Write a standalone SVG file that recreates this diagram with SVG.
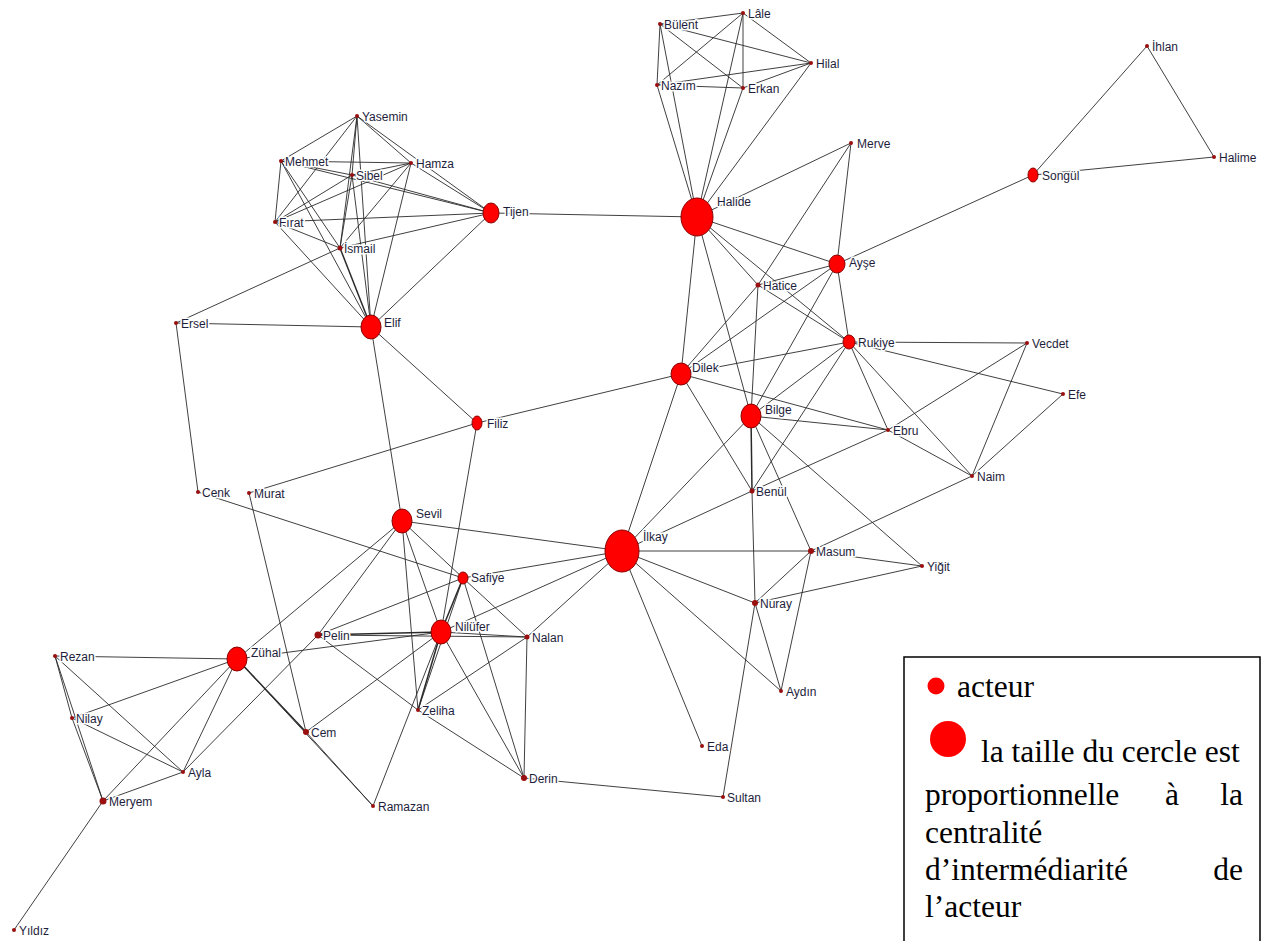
<svg xmlns="http://www.w3.org/2000/svg" width="1266" height="941" viewBox="0 0 1266 941">
<style>
.e line{stroke:#2a2a2a;stroke-width:0.9;fill:none}
.e line.t{stroke-width:1.5}
.d{fill:#9a0f0f}
.b{fill:#ff0000;stroke:#8a0000;stroke-width:1}
.n text{font-family:"Liberation Sans",Arial,sans-serif;font-size:12px;fill:#1e1e3c;stroke:#fff;stroke-width:3;paint-order:stroke;stroke-linejoin:round}
.lg{font-family:"Liberation Serif","Times New Roman",serif;font-size:31.5px;fill:#000}
</style>
<rect width="1266" height="941" fill="#fff"/>
<g id="connectors" class="e">
<line x1="660" y1="24" x2="743" y2="13"/>
<line x1="660" y1="24" x2="811" y2="63"/>
<line x1="660" y1="24" x2="743" y2="88"/>
<line x1="660" y1="24" x2="657" y2="85"/>
<line x1="660" y1="24" x2="697" y2="217"/>
<line x1="743" y1="13" x2="657" y2="85"/>
<line x1="743" y1="13" x2="743" y2="88"/>
<line x1="743" y1="13" x2="811" y2="63"/>
<line x1="743" y1="13" x2="697" y2="217"/>
<line x1="657" y1="85" x2="811" y2="63"/>
<line x1="657" y1="85" x2="743" y2="88"/>
<line x1="743" y1="88" x2="811" y2="63"/>
<line x1="811" y1="63" x2="697" y2="217"/>
<line x1="657" y1="85" x2="697" y2="217"/>
<line x1="743" y1="88" x2="697" y2="217"/>
<line x1="357" y1="116" x2="281" y2="161"/>
<line x1="357" y1="116" x2="275" y2="222"/>
<line x1="357" y1="116" x2="411" y2="163"/>
<line x1="357" y1="116" x2="491" y2="213"/>
<line x1="357" y1="116" x2="352" y2="175"/>
<line x1="357" y1="116" x2="340" y2="248"/>
<line x1="357" y1="116" x2="371" y2="327"/>
<line x1="281" y1="161" x2="411" y2="163"/>
<line x1="281" y1="161" x2="352" y2="175"/>
<line x1="281" y1="161" x2="491" y2="213"/>
<line x1="281" y1="161" x2="275" y2="222"/>
<line x1="281" y1="161" x2="340" y2="248"/>
<line x1="281" y1="161" x2="371" y2="327"/>
<line x1="411" y1="163" x2="352" y2="175"/>
<line x1="411" y1="163" x2="491" y2="213"/>
<line x1="411" y1="163" x2="275" y2="222"/>
<line x1="411" y1="163" x2="340" y2="248"/>
<line x1="411" y1="163" x2="371" y2="327"/>
<line x1="275" y1="222" x2="352" y2="175"/>
<line x1="275" y1="222" x2="491" y2="213"/>
<line x1="275" y1="222" x2="340" y2="248"/>
<line x1="275" y1="222" x2="371" y2="327"/>
<line x1="352" y1="175" x2="491" y2="213"/>
<line x1="352" y1="175" x2="340" y2="248"/>
<line x1="352" y1="175" x2="371" y2="327"/>
<line x1="340" y1="248" x2="491" y2="213"/>
<line x1="340" y1="248" x2="176" y2="323"/>
<line class="t" x1="340" y1="248" x2="371" y2="327"/>
<line x1="491" y1="213" x2="371" y2="327"/>
<line x1="491" y1="213" x2="697" y2="217"/>
<line x1="176" y1="323" x2="371" y2="327"/>
<line x1="176" y1="323" x2="198" y2="492"/>
<line x1="371" y1="327" x2="477" y2="423"/>
<line x1="371" y1="327" x2="402" y2="521"/>
<line x1="477" y1="423" x2="681" y2="374"/>
<line x1="477" y1="423" x2="249" y2="493"/>
<line x1="477" y1="423" x2="441" y2="632"/>
<line x1="697" y1="217" x2="851" y2="143"/>
<line x1="697" y1="217" x2="837" y2="264"/>
<line x1="697" y1="217" x2="758" y2="285"/>
<line x1="697" y1="217" x2="849" y2="342"/>
<line x1="697" y1="217" x2="681" y2="374"/>
<line x1="697" y1="217" x2="751" y2="416"/>
<line x1="851" y1="143" x2="837" y2="264"/>
<line x1="851" y1="143" x2="758" y2="285"/>
<line x1="837" y1="264" x2="1033" y2="175"/>
<line x1="837" y1="264" x2="758" y2="285"/>
<line x1="837" y1="264" x2="681" y2="374"/>
<line x1="837" y1="264" x2="751" y2="416"/>
<line x1="837" y1="264" x2="849" y2="342"/>
<line x1="758" y1="285" x2="849" y2="342"/>
<line x1="758" y1="285" x2="681" y2="374"/>
<line x1="758" y1="285" x2="751" y2="416"/>
<line x1="849" y1="342" x2="681" y2="374"/>
<line x1="849" y1="342" x2="1027" y2="343"/>
<line x1="849" y1="342" x2="1063" y2="394"/>
<line x1="849" y1="342" x2="888" y2="430"/>
<line x1="849" y1="342" x2="972" y2="476"/>
<line x1="849" y1="342" x2="751" y2="416"/>
<line x1="849" y1="342" x2="752" y2="491"/>
<line x1="681" y1="374" x2="888" y2="430"/>
<line x1="681" y1="374" x2="752" y2="491"/>
<line x1="681" y1="374" x2="622" y2="551"/>
<line x1="751" y1="416" x2="888" y2="430"/>
<line class="t" x1="751" y1="416" x2="752" y2="491"/>
<line x1="751" y1="416" x2="622" y2="551"/>
<line x1="751" y1="416" x2="922" y2="566"/>
<line x1="751" y1="416" x2="811" y2="551"/>
<line x1="888" y1="430" x2="1027" y2="343"/>
<line x1="888" y1="430" x2="972" y2="476"/>
<line x1="888" y1="430" x2="752" y2="491"/>
<line x1="1027" y1="343" x2="972" y2="476"/>
<line x1="1063" y1="394" x2="972" y2="476"/>
<line x1="972" y1="476" x2="811" y2="551"/>
<line x1="811" y1="551" x2="922" y2="566"/>
<line x1="755" y1="603" x2="922" y2="566"/>
<line x1="811" y1="551" x2="622" y2="551"/>
<line x1="811" y1="551" x2="755" y2="603"/>
<line x1="811" y1="551" x2="781" y2="691"/>
<line x1="755" y1="603" x2="622" y2="551"/>
<line x1="755" y1="603" x2="752" y2="491"/>
<line x1="755" y1="603" x2="781" y2="691"/>
<line x1="755" y1="603" x2="723" y2="797"/>
<line x1="622" y1="551" x2="752" y2="491"/>
<line x1="622" y1="551" x2="402" y2="521"/>
<line x1="622" y1="551" x2="463" y2="578"/>
<line x1="622" y1="551" x2="441" y2="632"/>
<line x1="622" y1="551" x2="527" y2="637"/>
<line x1="622" y1="551" x2="702" y2="746"/>
<line x1="622" y1="551" x2="781" y2="691"/>
<line x1="402" y1="521" x2="463" y2="578"/>
<line x1="402" y1="521" x2="441" y2="632"/>
<line x1="402" y1="521" x2="418" y2="710"/>
<line x1="402" y1="521" x2="237" y2="659"/>
<line x1="402" y1="521" x2="318" y2="635"/>
<line x1="198" y1="492" x2="463" y2="578"/>
<line x1="463" y1="578" x2="318" y2="635"/>
<line class="t" x1="463" y1="578" x2="441" y2="632"/>
<line x1="463" y1="578" x2="527" y2="637"/>
<line x1="463" y1="578" x2="524" y2="778"/>
<line x1="463" y1="578" x2="418" y2="710"/>
<line class="t" x1="318" y1="635" x2="441" y2="632"/>
<line x1="318" y1="635" x2="527" y2="637"/>
<line x1="318" y1="635" x2="418" y2="710"/>
<line x1="318" y1="635" x2="183" y2="772"/>
<line x1="441" y1="632" x2="527" y2="637"/>
<line x1="441" y1="632" x2="237" y2="659"/>
<line x1="441" y1="632" x2="306" y2="732"/>
<line class="t" x1="441" y1="632" x2="418" y2="710"/>
<line x1="441" y1="632" x2="524" y2="778"/>
<line x1="441" y1="632" x2="373" y2="806"/>
<line x1="527" y1="637" x2="524" y2="778"/>
<line x1="527" y1="637" x2="418" y2="710"/>
<line x1="418" y1="710" x2="524" y2="778"/>
<line x1="524" y1="778" x2="723" y2="797"/>
<line x1="237" y1="659" x2="55" y2="656"/>
<line x1="237" y1="659" x2="72" y2="718"/>
<line x1="237" y1="659" x2="183" y2="772"/>
<line x1="237" y1="659" x2="103" y2="801"/>
<line class="t" x1="237" y1="659" x2="306" y2="732"/>
<line x1="237" y1="659" x2="373" y2="806"/>
<line x1="306" y1="732" x2="373" y2="806"/>
<line x1="306" y1="732" x2="249" y2="493"/>
<line x1="55" y1="656" x2="72" y2="718"/>
<line x1="55" y1="656" x2="103" y2="801"/>
<line x1="55" y1="656" x2="183" y2="772"/>
<line x1="72" y1="718" x2="103" y2="801"/>
<line x1="72" y1="718" x2="183" y2="772"/>
<line x1="103" y1="801" x2="183" y2="772"/>
<line x1="103" y1="801" x2="14" y2="930"/>
<line x1="1033" y1="175" x2="1147" y2="46"/>
<line x1="1033" y1="175" x2="1214" y2="157"/>
<line x1="1147" y1="46" x2="1214" y2="157"/>
</g>
<g class="n">
<g id="n-bulent"><circle class="d" cx="660" cy="24" r="2"/><text x="664" y="29">Bülent</text></g>
<g id="n-lale"><circle class="d" cx="743" cy="13" r="2"/><text x="748" y="18">Lâle</text></g>
<g id="n-hilal"><circle class="d" cx="811" cy="63" r="2"/><text x="816" y="68">Hilal</text></g>
<g id="n-nazim"><circle class="d" cx="657" cy="85" r="2"/><text x="661" y="90">Nazım</text></g>
<g id="n-erkan"><circle class="d" cx="743" cy="88" r="2"/><text x="748" y="93">Erkan</text></g>
<g id="n-yasemin"><circle class="d" cx="357" cy="116" r="2"/><text x="362" y="121">Yasemin</text></g>
<g id="n-mehmet"><circle class="d" cx="281" cy="161" r="2"/><text x="285" y="166">Mehmet</text></g>
<g id="n-hamza"><circle class="d" cx="411" cy="163" r="2"/><text x="416" y="168">Hamza</text></g>
<g id="n-sibel"><circle class="d" cx="352" cy="175" r="2"/><text x="356" y="180">Sibel</text></g>
<g id="n-firat"><circle class="d" cx="275" cy="222" r="2"/><text x="279" y="227">Fırat</text></g>
<g id="n-ismail"><circle class="d" cx="340" cy="248" r="2.5"/><text x="344" y="253">İsmail</text></g>
<g id="n-ersel"><circle class="d" cx="176" cy="323" r="2"/><text x="181" y="328">Ersel</text></g>
<g id="n-merve"><circle class="d" cx="851" cy="143" r="2"/><text x="857" y="148">Merve</text></g>
<g id="n-hatice"><circle class="d" cx="758" cy="285" r="2.5"/><text x="763" y="290">Hatice</text></g>
<g id="n-vecdet"><circle class="d" cx="1027" cy="343" r="2"/><text x="1032" y="348">Vecdet</text></g>
<g id="n-efe"><circle class="d" cx="1063" cy="394" r="2"/><text x="1068" y="399">Efe</text></g>
<g id="n-ebru"><circle class="d" cx="888" cy="430" r="2"/><text x="893" y="435">Ebru</text></g>
<g id="n-naim"><circle class="d" cx="972" cy="476" r="2"/><text x="977" y="481">Naim</text></g>
<g id="n-benul"><circle class="d" cx="752" cy="491" r="2.5"/><text x="756" y="496">Benül</text></g>
<g id="n-cenk"><circle class="d" cx="198" cy="492" r="2"/><text x="202" y="497">Cenk</text></g>
<g id="n-murat"><circle class="d" cx="249" cy="493" r="2"/><text x="254" y="498">Murat</text></g>
<g id="n-yigit"><circle class="d" cx="922" cy="566" r="2"/><text x="927" y="571">Yiğit</text></g>
<g id="n-masum"><circle class="d" cx="811" cy="551" r="3"/><text x="816" y="556">Masum</text></g>
<g id="n-nuray"><circle class="d" cx="755" cy="603" r="3"/><text x="760" y="608">Nuray</text></g>
<g id="n-pelin"><circle class="d" cx="318" cy="635" r="3.5"/><text x="323" y="640">Pelin</text></g>
<g id="n-nalan"><circle class="d" cx="527" cy="637" r="2.5"/><text x="532" y="642">Nalan</text></g>
<g id="n-rezan"><circle class="d" cx="55" cy="656" r="2"/><text x="60" y="661">Rezan</text></g>
<g id="n-nilay"><circle class="d" cx="72" cy="718" r="2"/><text x="76" y="723">Nilay</text></g>
<g id="n-ayla"><circle class="d" cx="183" cy="772" r="2"/><text x="188" y="777">Ayla</text></g>
<g id="n-meryem"><circle class="d" cx="103" cy="801" r="3.5"/><text x="109" y="806">Meryem</text></g>
<g id="n-cem"><circle class="d" cx="306" cy="732" r="3"/><text x="311" y="737">Cem</text></g>
<g id="n-zeliha"><circle class="d" cx="418" cy="710" r="2"/><text x="422" y="715">Zeliha</text></g>
<g id="n-ramazan"><circle class="d" cx="373" cy="806" r="2"/><text x="378" y="811">Ramazan</text></g>
<g id="n-derin"><circle class="d" cx="524" cy="778" r="3"/><text x="529" y="783">Derin</text></g>
<g id="n-eda"><circle class="d" cx="702" cy="746" r="2"/><text x="707" y="751">Eda</text></g>
<g id="n-sultan"><circle class="d" cx="723" cy="797" r="2"/><text x="727" y="802">Sultan</text></g>
<g id="n-aydin"><circle class="d" cx="781" cy="691" r="2"/><text x="786" y="696">Aydın</text></g>
<g id="n-yildiz"><circle class="d" cx="14" cy="930" r="2"/><text x="19" y="935">Yıldız</text></g>
<g id="n-ihlan"><circle class="d" cx="1147" cy="46" r="2"/><text x="1152" y="51">İhlan</text></g>
<g id="n-halime"><circle class="d" cx="1214" cy="157" r="2"/><text x="1219" y="162">Halime</text></g>
<g id="n-halide"><ellipse class="b" cx="697" cy="217" rx="16" ry="19"/><text x="717" y="206">Halide</text></g>
<g id="n-tijen"><ellipse class="b" cx="491" cy="213" rx="8" ry="10"/><text x="503" y="216">Tijen</text></g>
<g id="n-elif"><ellipse class="b" cx="371" cy="327" rx="10" ry="12"/><text x="384" y="327">Elif</text></g>
<g id="n-filiz"><ellipse class="b" cx="477" cy="423" rx="5" ry="7"/><text x="487" y="428">Filiz</text></g>
<g id="n-ayse"><ellipse class="b" cx="837" cy="264" rx="8" ry="9"/><text x="849" y="267">Ayşe</text></g>
<g id="n-rukiye"><ellipse class="b" cx="849" cy="342" rx="6" ry="7"/><text x="858" y="347">Rukiye</text></g>
<g id="n-dilek"><ellipse class="b" cx="681" cy="374" rx="10" ry="11"/><text x="692" y="372">Dilek</text></g>
<g id="n-bilge"><ellipse class="b" cx="751" cy="416" rx="10" ry="12"/><text x="765" y="414">Bilge</text></g>
<g id="n-songul"><ellipse class="b" cx="1033" cy="175" rx="5" ry="7"/><text x="1042" y="180">Songül</text></g>
<g id="n-sevil"><ellipse class="b" cx="402" cy="521" rx="10" ry="12"/><text x="416" y="518">Sevil</text></g>
<g id="n-ilkay"><ellipse class="b" cx="622" cy="551" rx="17" ry="21"/><text x="643" y="541">İlkay</text></g>
<g id="n-safiye"><ellipse class="b" cx="463" cy="578" rx="5" ry="6"/><text x="471" y="582">Safiye</text></g>
<g id="n-nilufer"><ellipse class="b" cx="441" cy="632" rx="10" ry="12"/><text x="455" y="631">Nilüfer</text></g>
<g id="n-zuhal"><ellipse class="b" cx="237" cy="659" rx="10" ry="12"/><text x="251" y="657">Zühal</text></g>
</g>
<g id="legend">
<rect x="904" y="657" width="356" height="300" fill="#fff" stroke="#000" stroke-width="1.5"/>
<circle cx="936" cy="686" r="8.5" fill="#ff0000"/>
<text class="lg" x="957" y="697">acteur</text>
<circle cx="948" cy="739" r="18" fill="#ff0000"/>
<text class="lg" x="981" y="762">la taille du cercle est</text>
<text class="lg" x="925" y="805">proportionnelle</text>
<text class="lg" x="1165" y="805">à</text>
<text class="lg" x="1243" y="805" text-anchor="end">la</text>
<text class="lg" x="925" y="843">centralité</text>
<text class="lg" x="925" y="880">d’intermédiarité</text>
<text class="lg" x="1243" y="880" text-anchor="end">de</text>
<text class="lg" x="925" y="917">l’acteur</text>
</g>
</svg>
